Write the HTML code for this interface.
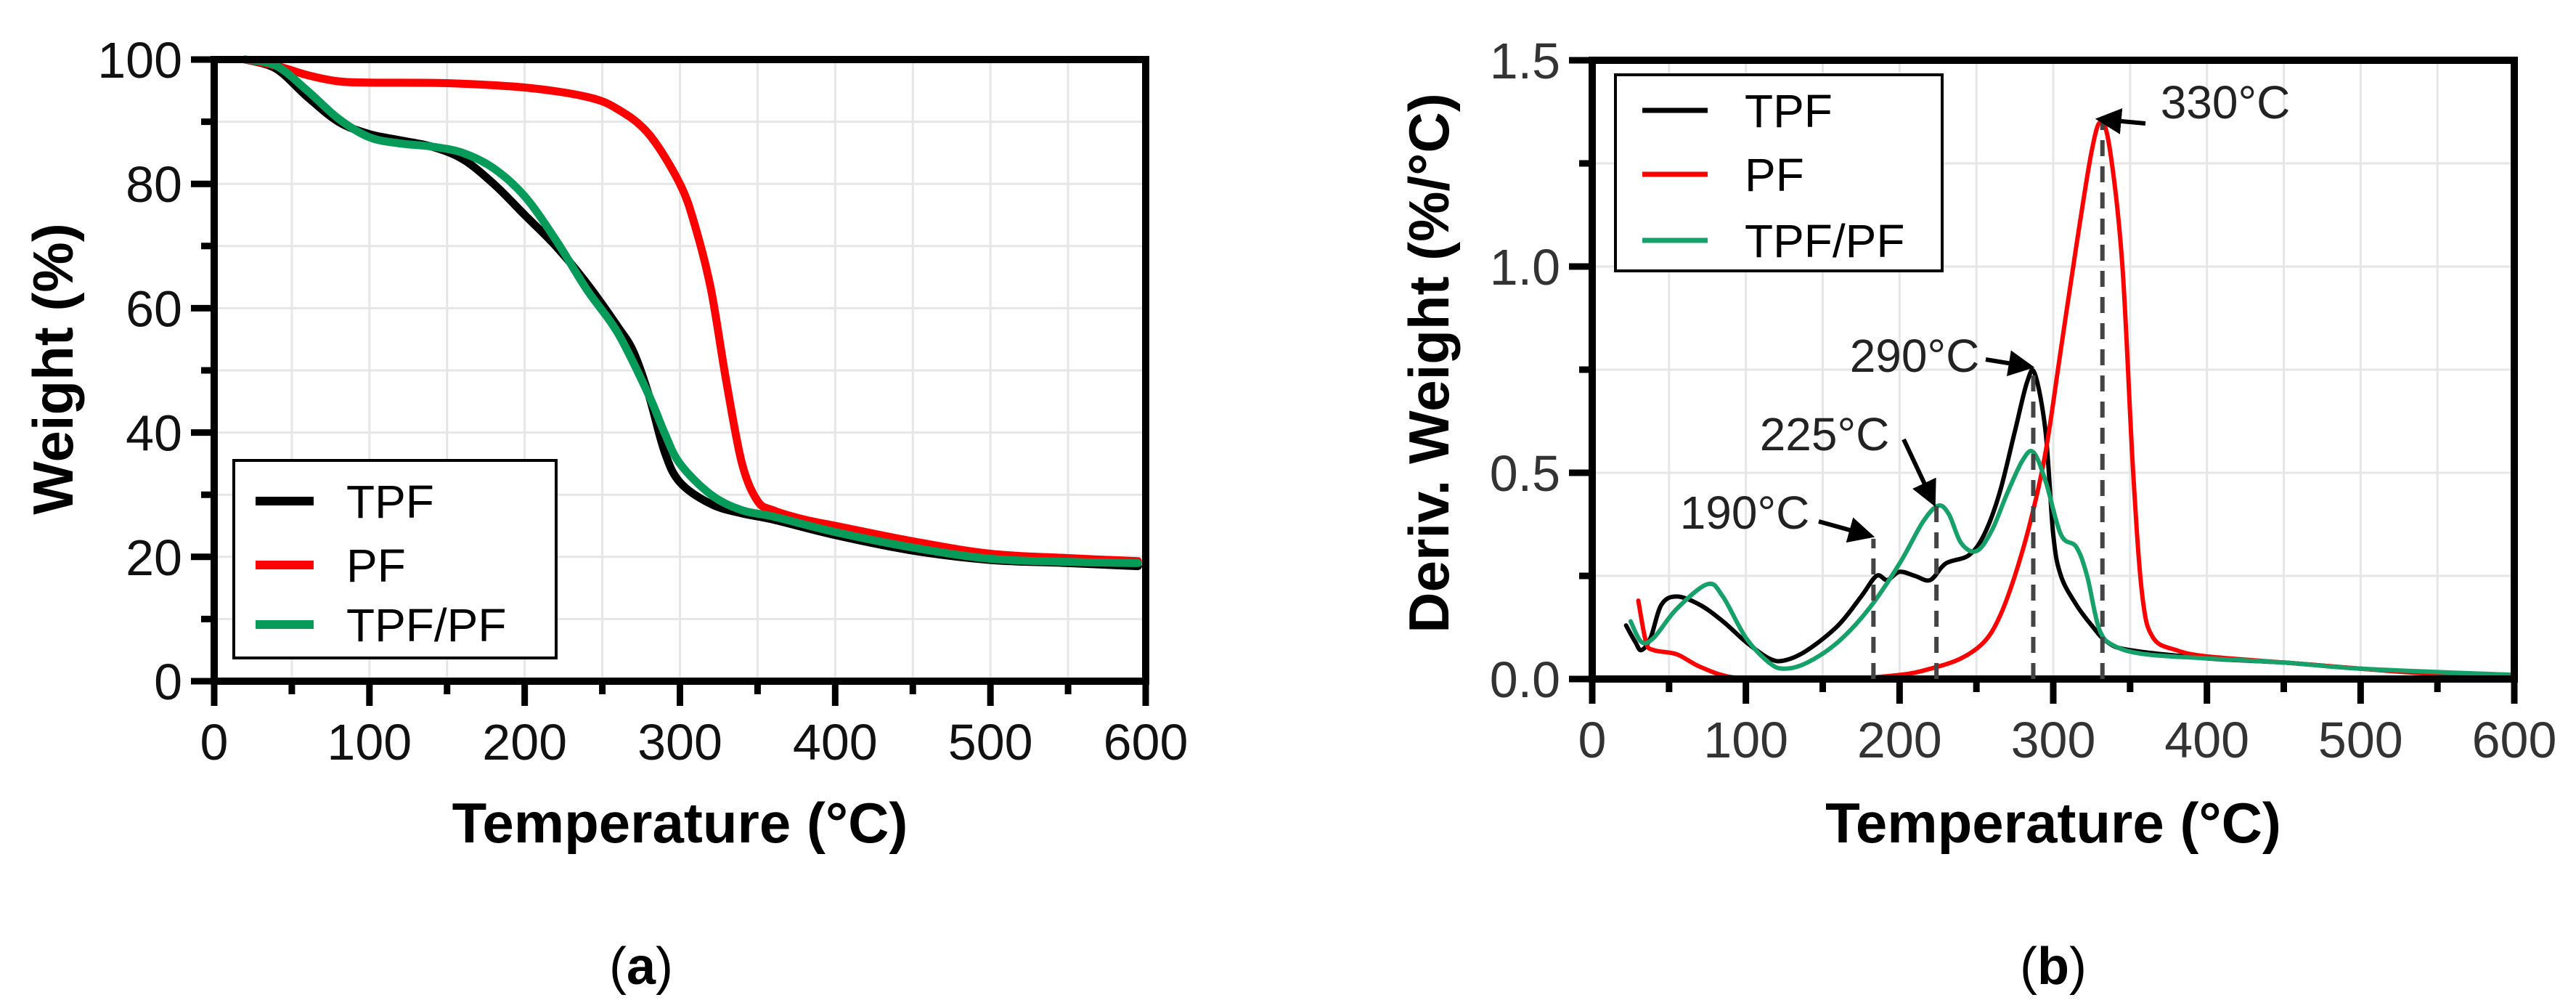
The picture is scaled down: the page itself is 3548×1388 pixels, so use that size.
<!DOCTYPE html>
<html><head><meta charset="utf-8"><style>
html,body{margin:0;padding:0;background:#fff}
svg{display:block}
text{font-family:"Liberation Sans",Arial,sans-serif}
</style></head><body>
<svg id="fig" width="3548" height="1388" viewBox="0 0 3548 1388" xmlns="http://www.w3.org/2000/svg">
<g id="gA"></g>
<g id="gB"></g>
<text x="883" y="1355" font-family="Liberation Serif,serif" font-size="72" text-anchor="middle">(<tspan font-weight="bold">a</tspan>)</text>
<text x="2828" y="1355" font-family="Liberation Serif,serif" font-size="72" text-anchor="middle">(<tspan font-weight="bold">b</tspan>)</text>
</svg>
<script>
// ---- Chart A data (TGA) ----
const aXTicks = [0,100,200,300,400,500,600];
const aYTicks = [0,20,40,60,80,100];
const aTPF_T = [20,40,60,80,100,120,140,160,180,200,220,240,260,270,280,290,300,320,340,360,400,450,500,550,595];
const aTPF_W = [100,98.5,94,90,88,87,86,84,80,75,70,64,57,53,46,37,32,28.5,27,26,23.5,21,19.5,19,18.5];
const aPF_T = [20,40,60,80,100,150,200,240,260,280,300,310,320,330,340,350,360,380,400,450,500,550,595];
const aPF_W = [100,99,97.5,96.5,96.3,96.2,95.5,94,92,88,80,73,63,48,35,29,27.5,26,25,22.5,20.5,19.8,19.3];
const aMIX_T = [20,40,60,80,100,120,140,160,180,200,220,240,260,280,290,300,320,340,360,400,450,500,550,595];
const aMIX_W = [100,99,95,90.5,87.5,86.5,86,85,82.5,78,71,63,56,46,40,35,30,27.5,26.5,24,21.5,19.7,19.2,19];
// ---- Chart B data (DTG) ----
const bXTicks = [0,100,200,300,400,500,600];
const bYTicks = [0.0,0.5,1.0,1.5];
const bYTickLabels = ["0.0","0.5","1.0","1.5"];
const bTPF_T = [22,28,32,38,45,55,70,85,100,115,125,140,160,175,185,192,200,210,220,230,245,255,265,275,283,288,295,300,305,315,325,335,350,400,450,500,550,600];
const bTPF_D = [0.13,0.09,0.07,0.1,0.18,0.2,0.18,0.14,0.09,0.05,0.045,0.07,0.13,0.2,0.25,0.24,0.26,0.25,0.24,0.28,0.3,0.35,0.45,0.6,0.72,0.74,0.6,0.35,0.25,0.18,0.13,0.09,0.07,0.05,0.04,0.025,0.015,0.01];
const bMIX_T = [25,32,40,55,75,85,100,115,125,140,160,180,200,215,225,232,240,250,260,270,280,287,295,305,315,322,330,340,360,400,450,500,600];
const bMIX_D = [0.14,0.09,0.1,0.17,0.23,0.2,0.1,0.04,0.025,0.04,0.09,0.17,0.28,0.38,0.42,0.4,0.33,0.31,0.36,0.45,0.53,0.55,0.48,0.35,0.32,0.25,0.12,0.08,0.06,0.05,0.04,0.025,0.01];
const bPF_T = [30,35,40,55,70,90,120,160,200,220,240,255,265,275,285,295,305,315,325,331,337,345,352,358,365,380,400,450,500,550,600];
const bPF_D = [0.19,0.09,0.07,0.06,0.03,0.005,0,0,0.01,0.025,0.05,0.09,0.15,0.25,0.38,0.55,0.8,1.05,1.28,1.35,1.28,1.0,0.5,0.2,0.1,0.07,0.055,0.04,0.025,0.012,0.008];
const bAnnoLabels = ["190°C","225°C","290°C","330°C"];
const bAnnoT = [183,224,287,332];
const bAnnoD = [0.34,0.42,0.75,1.35];

const NS="http://www.w3.org/2000/svg";
function mk(parent,tag,attrs){const e=document.createElementNS(NS,tag);for(const k in attrs)e.setAttribute(k,attrs[k]);parent.appendChild(e);return e;}
function smooth(pts){let d="M"+pts[0][0].toFixed(1)+","+pts[0][1].toFixed(1);
 for(let i=0;i<pts.length-1;i++){const p0=pts[i-1]||pts[i],p1=pts[i],p2=pts[i+1],p3=pts[i+2]||p2;
  const c1=[p1[0]+(p2[0]-p0[0])/6,p1[1]+(p2[1]-p0[1])/6],c2=[p2[0]-(p3[0]-p1[0])/6,p2[1]-(p3[1]-p1[1])/6];
  d+="C"+c1[0].toFixed(1)+","+c1[1].toFixed(1)+" "+c2[0].toFixed(1)+","+c2[1].toFixed(1)+" "+p2[0].toFixed(1)+","+p2[1].toFixed(1);}
 return d;}

function chart(g,o){
 const X=v=>o.x0+(v-o.xmin)/(o.xmax-o.xmin)*(o.x1-o.x0);
 const Y=v=>o.y0-(v-o.ymin)/(o.ymax-o.ymin)*(o.y0-o.y1);
 // grid
 for(let v=o.xmin+50;v<o.xmax;v+=50){const l=mk(g,'line',{x1:X(v),x2:X(v),y1:o.y1,y2:o.y0,stroke:'#e6e6e6','stroke-width':3});
  }
 for(let v=o.ymin+o.ystep;v<o.ymax-1e-9;v+=o.ystep){const l=mk(g,'line',{x1:o.x0,x2:o.x1,y1:Y(v),y2:Y(v),stroke:'#e6e6e6','stroke-width':3});
  }
 // series
 o.series.forEach(s=>{const p=mk(g,'path',{d:smooth(s.t.map((t,i)=>[X(t),Y(s.v[i])])),fill:'none',stroke:s.c,'stroke-width':o.lw,'stroke-linejoin':'round','stroke-linecap':'round'});
  });
 // frame
 const f=mk(g,'rect',{x:o.x0,y:o.y1,width:o.x1-o.x0,height:o.y0-o.y1,fill:'none',stroke:'#000','stroke-width':10});
 
 // x ticks
 for(let v=o.xmin;v<=o.xmax;v+=50){const major=v%100===0;const t=mk(g,'line',{x1:X(v),x2:X(v),y1:o.y0,y2:o.y0+(major?34:18),stroke:'#000','stroke-width':9});
  }
 o.xticks.forEach(v=>{const t=mk(g,'text',{x:X(v),y:o.y0+108,'font-size':o.tfs,'text-anchor':'middle',fill:o.tcol});t.textContent=v;
  });
 // y ticks
 for(let v=o.ymin;v<=o.ymax+1e-9;v+=o.ystep){const major=Math.abs(v/o.ymaj-Math.round(v/o.ymaj))<1e-6;const t=mk(g,'line',{x1:o.x0-(major?32:18),x2:o.x0,y1:Y(v),y2:Y(v),stroke:'#000','stroke-width':9});
  }
 o.yticks.forEach((v,i)=>{const t=mk(g,'text',{x:o.x0-44,y:Y(v)+25,'font-size':o.tfs,'text-anchor':'end',fill:o.tcol});t.textContent=o.ylabels?o.ylabels[i]:v;
  });
 // titles
 const xt=mk(g,'text',{x:(o.x0+o.x1)/2,y:1160,'font-size':78,'font-weight':'bold','text-anchor':'middle'});xt.textContent='Temperature (°C)';
 
 const yt=mk(g,'text',{x:0,y:0,'font-size':78,'font-weight':'bold','text-anchor':'middle',transform:`translate(${o.ytx},${o.yty}) rotate(-90)`});yt.textContent=o.ytitle;
 
 // legend
 const L=o.leg;const lb=mk(g,'rect',{x:L.x,y:L.y,width:L.w,height:L.h,fill:'#fff',stroke:'#000','stroke-width':4});
 
 o.series.forEach((s,i)=>{const yy=L.rows[i];
  const ln=mk(g,'line',{x1:L.lx0,x2:L.lx1,y1:yy,y2:yy,stroke:s.c,'stroke-width':o.llw});
  
  const tx=mk(g,'text',{x:L.tx,y:yy+23,'font-size':L.fs});tx.textContent=s.label;
  });
 return {X,Y};
}

chart(document.getElementById('gA'),{x0:295,x1:1578,y0:938,y1:82,xmin:0,xmax:600,ymin:0,ymax:100,ystep:10,ymaj:20,
 xticks:aXTicks,yticks:aYTicks,tfs:70,tcol:'#111',lw:11,llw:12,ytitle:'Weight (%)',ytx:100,yty:508,
 series:[{name:'tpf-line',label:'TPF',c:'#000',t:aTPF_T,v:aTPF_W},{name:'pf-line',label:'PF',c:'#ff0000',t:aPF_T,v:aPF_W},{name:'tpf-pf-line',label:'TPF/PF',c:'#079b5a',t:aMIX_T,v:aMIX_W}],
 leg:{x:322,y:634,w:444,h:272,rows:[690,778,860],lx0:352,lx1:432,tx:477,fs:64}});

const B=chart(document.getElementById('gB'),{x0:2193,x1:3463,y0:935,y1:83,xmin:0,xmax:600,ymin:0,ymax:1.5,ystep:0.25,ymaj:0.5,
 xticks:bXTicks,yticks:bYTicks,ylabels:bYTickLabels,tfs:70,tcol:'#333',lw:6,llw:7,ytitle:'Deriv. Weight (%/°C)',ytx:1995,yty:500,
 series:[{name:'tpf-line',label:'TPF',c:'#000',t:bTPF_T,v:bTPF_D},{name:'pf-line',label:'PF',c:'#ff0000',t:bPF_T,v:bPF_D},{name:'tpf-pf-line',label:'TPF/PF',c:'#16a06a',t:bMIX_T,v:bMIX_D}],
 leg:{x:2225,y:103,w:450,h:270,rows:[152,240,331],lx0:2262,lx1:2352,tx:2403,fs:64}});

// annotations
const gB=document.getElementById('gB');
const defs=mk(document.getElementById('fig'),'defs',{});
const mkr=mk(defs,'marker',{id:'arr',markerWidth:6,markerHeight:6,refX:5,refY:3,orient:'auto',markerUnits:'strokeWidth'});
mk(mkr,'path',{d:'M0,0 L6,3 L0,6 Z',fill:'#000'});
const annoText=[[2403,728],[2513,620],[2637,512],[3065,163]];
const annoFrom=[[2505,718],[2622,605],[2735,495],[2955,170]];
bAnnoT.forEach((t,i)=>{
 const dl=mk(gB,'line',{x1:B.X(t),x2:B.X(t),y1:B.Y(0),y2:B.Y(bAnnoD[i]),stroke:'#444','stroke-width':6,'stroke-dasharray':'22,14'});
 
 const ar=mk(gB,'line',{x1:annoFrom[i][0],y1:annoFrom[i][1],x2:B.X(t)-4,y2:B.Y(bAnnoD[i])-4,stroke:'#000','stroke-width':6,'marker-end':'url(#arr)'});
 
 const tx=mk(gB,'text',{x:annoText[i][0],y:annoText[i][1],'font-size':64,'text-anchor':'middle',fill:'#222'});tx.textContent=bAnnoLabels[i];
 
});
</script>
</body></html>
